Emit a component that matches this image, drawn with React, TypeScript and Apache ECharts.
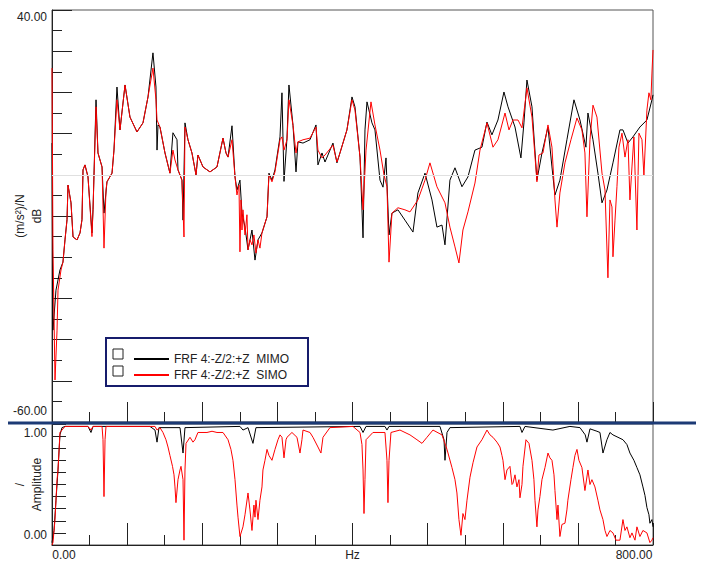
import React, { useEffect, useRef } from "react";
import * as echarts from "echarts";

// ---- data ----
const MIMO_NAME = "FRF 4:-Z/2:+Z  MIMO";
const SIMO_NAME = "FRF 4:-Z/2:+Z  SIMO";

// FRF magnitude, dB re (m/s²)/N
const mimoFrfHz = [0, 1.3, 5.3, 10.6, 14.6, 17.3, 20, 21.3, 25.3, 28, 33.3, 37.3, 39.9, 41.3, 43.9, 47.9, 53.2, 54.6, 58.6, 61.2, 66.6, 69.2, 73.2, 79.9, 82.5, 86.5, 90.5, 97.2, 103.8, 113.1, 121.1, 127.8, 134.4, 138.4, 139.8, 141.1, 143.7, 150.4, 157, 161, 166.4, 167.7, 173, 174.4, 177, 181, 186.3, 191.7, 194.3, 201, 210.3, 219.6, 227.6, 231.6, 234.3, 239.6, 243.6, 246.2, 250.2, 252.9, 256.9, 260.9, 266.2, 270.2, 274.2, 279.5, 286.2, 288.8, 292.8, 296.8, 303.5, 306.1, 308.8, 312.8, 315.4, 320.8, 324.8, 327.4, 334.1, 343.4, 351.4, 354, 359.4, 363.4, 374, 379.3, 383.3, 392.6, 399.3, 403.3, 410, 414, 416.6, 419.3, 425.9, 429.9, 436.6, 440.6, 444.6, 448.6, 452.5, 460.5, 469.8, 480.5, 487.1, 496.5, 505.8, 512.4, 519.1, 523.1, 529.7, 536.4, 545.7, 553.7, 563, 572.3, 579, 585.6, 593.6, 601.6, 607, 616.3, 624.2, 628.2, 632.2, 638.9, 645.5, 652.2, 660.2, 665.5, 669.5, 676.1, 685.4, 694.8, 702.8, 710.7, 713.4, 720.1, 726.7, 732.1, 738.7, 746.7, 756, 760, 766.7, 773.3, 782.6, 791.9, 798.6, 800];
const mimoFrfDb = [7.7, -37.7, -28, -23.1, -21.2, -15.8, -10.9, -2.5, -6.8, -15.1, -15.8, -14.1, -10.9, 1.2, 2.4, -0.5, -14.1, -8.5, 18.2, 5.3, 1.9, -9.3, -1.7, 0.4, 6, 21.3, 10.9, 21.8, 14, 10.4, 12.6, 18.9, 29.6, 21.3, 6, 12.1, 11.6, 5.3, 0.4, 10.2, 8.5, 1.2, -1.3, -11, 12.6, 8.5, 5.3, 0, 4.8, 1.9, 0.7, 1.9, 8.9, 5.3, 4.3, 11.9, -0.5, -3.7, -1.3, -9.3, -12.7, -18.2, -13.4, -20.7, -15.8, -14.1, -10.2, 0.4, -1.3, 1.2, 9.2, 19.9, -1.6, 8.9, 21.8, 12, 0.7, 8, 7.7, 8.5, 12.1, 2.4, 5.3, 3.1, 7.7, 2.9, 5.3, 10.9, 18.9, 16.5, 4.3, -15.3, 10.9, 17.7, 12.6, 10.9, -1.3, -3, 4.1, -14.6, -9.3, -8.5, -11, -13.9, -4.4, 0.4, -6.1, -12.7, -12.2, -17, -1.3, 1.7, -2.9, -0.5, 6, 6.7, 12.8, 9.7, 13.3, 20.1, 16.5, 11.6, 4.1, 12.6, 23, 16.5, -1.3, 5.3, 11.6, 1.9, -4.9, -1.3, 8.5, 18.2, 13.3, 6.7, 15, 8.5, 0.4, -6.8, -3.7, 2.9, 10.9, 10.9, 7.7, 9.2, 11.6, 13.3, 18.2, 19.4];

const simoFrfHz = [0, 1.3, 4, 6.7, 8, 12, 14.6, 17.3, 20, 21.3, 25.3, 28, 33.3, 37.3, 39.9, 41.3, 43.9, 47.9, 53.2, 54.6, 58.6, 61.2, 66.6, 69.2, 71.9, 73.2, 79.9, 82.5, 86.5, 90.5, 97.2, 103.8, 113.1, 121.1, 127.8, 134.4, 138.4, 139.8, 143.7, 150.4, 157, 161, 163.7, 167.7, 173, 175.7, 177, 181, 186.3, 191.7, 194.3, 201, 210.3, 219.6, 227.6, 231.6, 234.3, 239.6, 243.6, 246.2, 248.9, 250.2, 251.6, 252.9, 254.2, 256.9, 259.5, 260.9, 263.5, 266.2, 268.8, 271.5, 274.2, 276.8, 279.5, 286.2, 288.8, 292.8, 296.8, 303.5, 306.1, 308.8, 312.8, 315.4, 320.8, 324.8, 327.4, 334.1, 343.4, 351.4, 354, 359.4, 363.4, 374, 379.3, 383.3, 392.6, 399.3, 403.3, 410, 414, 418, 424.6, 429.9, 436.6, 441.9, 445.9, 448.6, 452.5, 460.5, 469.8, 476.5, 487.1, 496.5, 503.1, 512.4, 523.1, 529.7, 536.4, 541.7, 547, 553.7, 563, 569.7, 579, 587, 593.6, 603, 608.3, 613.6, 620.3, 625.6, 632.2, 638.9, 645.5, 648.2, 653.5, 660.2, 665.5, 669.5, 672.2, 676.1, 682.8, 690.8, 698.8, 705.4, 709.4, 712.1, 716.1, 720.1, 725.4, 732.1, 736.1, 740, 742.7, 745.4, 746.7, 749.4, 752, 754.7, 758.7, 762.7, 766.7, 769.3, 772, 774.6, 778.6, 781.3, 785.3, 787.9, 791.9, 794.6, 797.2, 798.6, 800];
const simoFrfDb = [25.9, -18.2, -49.8, -37.7, -28, -23.1, -21.2, -15.8, -10.9, -2.5, -6.8, -15.1, -15.8, -14.1, -10.9, 1.2, 2.4, -0.5, -15, -8.5, 16.5, 5.3, 1.9, -17.8, -3.7, -1.7, 0.4, 6, 18.2, 10.9, 21.8, 14, 10.4, 12.6, 18.9, 25.9, 18.2, 13.3, 11.6, 5.3, 0.4, 6, 3.6, 1.2, -1.3, -15.1, 11.6, 8.5, 5.3, 0, 4.8, 1.9, 0.7, 1.9, 8.9, 5.3, 4.3, 8.5, -0.5, -4.9, -2.5, -18.7, -6.1, -13.4, -8.5, -14.6, -9.7, -18.2, -15.8, -17, -14.6, -19, -15.8, -17.8, -14.1, -10.2, 0, -1.7, 0.7, 8.5, 9.2, 6, 8.5, 18.2, 12, 5.3, 8, 8.5, 8.9, 11.6, 6, 4.1, 4.8, 7.2, 3.1, 5.3, 10.9, 18.2, 15.7, 4.3, -8.5, 6, 17.7, 12.1, 6, 0, -2.9, -21.2, -9.3, -8, -8.5, -9, -6.1, -1.3, 2.9, -2.9, -6.8, -12.7, -17.5, -21.4, -13.4, -9, -2, 6, 12.6, 6.7, 8.5, 15, 10.9, 13.3, 13.3, 11.4, 21.1, 14, -1.7, 4.8, 5.3, 12.1, 6.7, -6.1, -12.7, -4.4, 2.9, 8.5, 13.8, 10.9, 5.3, -10.2, 8.5, 16.9, 14, 0.4, -3.7, -25, -6.1, -7.8, -19.9, -11, -2.9, 6.7, 10.1, 4.3, 8.5, -6.1, 1.9, 9.2, -13.4, 10.1, 8.5, -0.1, 15.7, 19.9, 18.2, 24.7, 30.3];

// Coherence amplitude (0..1)
const mimoCohHz = [0, 2.7, 5.3, 8, 10.6, 13.3, 17.3, 47.9, 51.9, 54.6, 130.4, 137.1, 139.8, 142.4, 170.4, 174.4, 177, 250.2, 254.2, 260.9, 267.5, 271.5, 410, 414, 418, 443.2, 445.9, 448.6, 516.4, 521.8, 523.1, 525.8, 529.7, 622.9, 625.6, 629.6, 666.8, 689.4, 702.8, 709.8, 712.1, 716.1, 725.4, 729.4, 733.4, 738.7, 742.7, 746.7, 753.4, 760, 765.3, 769.3, 774.6, 778.6, 782.6, 786.6, 789.3, 791.9, 794.6, 795.9, 798.6, 800];
const mimoCoh = [0.02, 0.12, 0.37, 0.62, 0.91, 0.97, 0.98, 0.98, 0.93, 0.98, 0.98, 0.95, 0.85, 0.97, 0.97, 0.76, 0.97, 0.98, 0.95, 0.97, 0.84, 0.97, 0.98, 0.93, 0.98, 0.98, 0.95, 0.98, 0.98, 0.87, 0.7, 0.93, 0.97, 0.98, 0.93, 0.98, 0.95, 0.98, 0.97, 0.91, 0.85, 0.96, 0.94, 0.93, 0.76, 0.87, 0.93, 0.91, 0.89, 0.87, 0.83, 0.76, 0.7, 0.64, 0.58, 0.48, 0.41, 0.31, 0.25, 0.18, 0.21, 0.15];

const simoCohHz = [0, 1.3, 4, 6.7, 8, 10.6, 13.3, 17.3, 47.9, 51.9, 54.6, 66.6, 67.9, 69.2, 70.6, 71.9, 137.1, 139.8, 143.7, 147.7, 151.7, 154.4, 157, 160.4, 162.4, 163.7, 165, 167.7, 170.4, 171.7, 174.4, 175.7, 177, 178.4, 183.7, 187.7, 190.3, 194.3, 206.3, 213, 219.6, 227.6, 234.3, 238.2, 240.9, 243.6, 246.2, 247.6, 250.2, 254.2, 256.9, 260.9, 263.5, 266.2, 268.8, 270.2, 271.5, 274.2, 276.8, 279.5, 280.8, 283.5, 286.2, 288.8, 292.8, 296.8, 300.8, 303.5, 306.1, 308.8, 311.5, 312.8, 319.4, 326.1, 330.1, 332.7, 334.1, 343.4, 347.4, 354, 358, 360.7, 370, 400.6, 410, 412.6, 414, 415.3, 416.6, 418, 427.2, 443.2, 445.9, 447.2, 448.6, 451.2, 463.2, 476.5, 485.8, 492.5, 499.1, 507.1, 519.1, 525.8, 532.4, 536.4, 539, 541.7, 544.4, 547, 549.7, 552.4, 556.4, 560.4, 565.7, 572.3, 579, 583, 587, 592.3, 596.3, 598.9, 600.3, 603, 605.6, 609.6, 612.3, 613.6, 616.3, 618.9, 621.6, 622.9, 625.6, 626.9, 630.9, 634.9, 638.9, 641.5, 642.9, 645.5, 646.9, 649.5, 652.2, 656.2, 660.2, 662.8, 665.5, 668.2, 669.5, 672.2, 673.5, 676.1, 678.8, 682.8, 685.4, 686.7, 690.8, 693.4, 696.1, 698.8, 701.4, 705.4, 709.4, 713.4, 716.1, 718.7, 722.7, 726.7, 729.4, 733.4, 736.1, 738.7, 742.7, 746.7, 750.7, 756, 760, 762.7, 765.3, 769.3, 772, 776, 778.6, 782.6, 786.6, 791.9, 795.9, 798.6, 800];
const simoCoh = [0, 0.02, 0.21, 0.54, 0.62, 0.93, 0.95, 0.98, 0.98, 0.95, 0.98, 0.98, 0.87, 0.4, 0.87, 0.98, 0.98, 0.95, 0.97, 0.93, 0.87, 0.81, 0.74, 0.65, 0.58, 0.48, 0.35, 0.54, 0.62, 0.65, 0.54, 0.04, 0.62, 0.84, 0.89, 0.85, 0.87, 0.93, 0.93, 0.94, 0.93, 0.93, 0.87, 0.79, 0.7, 0.54, 0.33, 0.23, 0.07, 0.15, 0.25, 0.43, 0.29, 0.12, 0.33, 0.23, 0.37, 0.21, 0.37, 0.48, 0.62, 0.7, 0.79, 0.74, 0.7, 0.79, 0.87, 0.91, 0.89, 0.72, 0.87, 0.89, 0.93, 0.89, 0.76, 0.87, 0.95, 0.93, 0.89, 0.81, 0.76, 0.89, 0.97, 0.98, 0.93, 0.83, 0.62, 0.26, 0.54, 0.87, 0.93, 0.93, 0.7, 0.35, 0.7, 0.93, 0.95, 0.91, 0.87, 0.84, 0.89, 0.95, 0.91, 0.79, 0.64, 0.54, 0.43, 0.21, 0.08, 0.26, 0.21, 0.37, 0.56, 0.68, 0.81, 0.87, 0.95, 0.91, 0.89, 0.85, 0.81, 0.74, 0.7, 0.54, 0.62, 0.65, 0.5, 0.51, 0.58, 0.48, 0.54, 0.39, 0.5, 0.65, 0.87, 0.84, 0.7, 0.54, 0.37, 0.15, 0.29, 0.4, 0.54, 0.64, 0.76, 0.72, 0.7, 0.58, 0.45, 0.21, 0.33, 0.07, 0.17, 0.18, 0.29, 0.37, 0.54, 0.64, 0.74, 0.79, 0.7, 0.64, 0.45, 0.62, 0.5, 0.54, 0.48, 0.37, 0.29, 0.21, 0.12, 0.07, 0.12, 0.1, 0.04, 0.04, 0.21, 0.12, 0.15, 0.06, 0.1, 0.04, 0.15, 0.07, 0.12, 0.1, 0.02, 0.04, 0.06];

const X_MIN = 0;
const X_MAX = 800;
const FRF_MIN = -60;
const FRF_MAX = 40;

const zip = (xs: number[], ys: number[]) => xs.map((x, i) => [x, ys[i]]);

const FONT = '"Liberation Sans", Arial, Helvetica, sans-serif';
const TXT = "#222";
const BLACK = "#000000";
const RED = "#ff0000";

function buildOption(): any {
  const lbl = { fontSize: 12, color: TXT, fontFamily: FONT };
  const tickStyle = { color: TXT, width: 1 };
  return {
    animation: false,
    backgroundColor: "#ffffff",
    textStyle: { fontFamily: FONT },
    grid: [
      { left: 52, top: 10, right: 51, height: 412, show: true, borderColor: "#555", borderWidth: 1, backgroundColor: "transparent", outerBoundsMode: "none" },
      { left: 52, top: 424, right: 51, height: 121, show: true, borderColor: "#555", borderWidth: 1, backgroundColor: "transparent", outerBoundsMode: "none" },
    ],
    xAxis: [
      {
        type: "value", gridIndex: 0, min: X_MIN, max: X_MAX, interval: 100,
        axisLine: { show: false, onZero: false },
        axisTick: { show: true, inside: true, length: 20, lineStyle: tickStyle },
        minorTick: { show: true, splitNumber: 2, length: 10, lineStyle: tickStyle },
        axisLabel: { show: false },
        splitLine: { show: false },
      },
      {
        type: "value", gridIndex: 1, min: X_MIN, max: X_MAX, interval: 100,
        axisLine: { show: true, onZero: false, lineStyle: { color: TXT } },
        axisTick: { show: true, inside: true, length: 22, lineStyle: tickStyle },
        minorTick: { show: true, splitNumber: 2, length: 10, lineStyle: tickStyle },
        splitLine: { show: false },
        axisLabel: {
          ...lbl, margin: 4,
          formatter: (v: number) => (v === X_MIN ? "{l|" + v.toFixed(2) + "}" : v === X_MAX ? "{r|" + v.toFixed(2) + "}" : ""),
          rich: {
            l: { ...lbl, padding: [0, 0, 0, 24] },
            r: { ...lbl, padding: [0, 38, 0, 0] },
          },
        },
        name: "Hz", nameLocation: "middle", nameGap: 4, nameMoveOverlap: false,
        nameTextStyle: { ...lbl, verticalAlign: "top" },
      },
    ],
    yAxis: [
      {
        type: "value", gridIndex: 0, min: FRF_MIN, max: FRF_MAX, interval: 10,
        axisLine: { show: true, onZero: false, lineStyle: { color: TXT } },
        axisTick: { show: true, inside: true, length: 20, lineStyle: tickStyle },
        minorTick: { show: true, splitNumber: 2, length: 10, lineStyle: tickStyle },
        splitLine: { show: false },
        axisLabel: {
          ...lbl, margin: 5,
          formatter: (v: number) => (v === FRF_MAX ? "{t|" + v.toFixed(2) + "}" : v === FRF_MIN ? "{b|" + v.toFixed(2) + "}" : ""),
          rich: {
            t: { ...lbl, padding: [14, 0, 0, 0] },
            b: { ...lbl, padding: [0, 0, 22, 0] },
          },
        },
        name: "(m/s²)/N\ndB", nameLocation: "middle", nameRotate: 90, nameGap: 7, nameMoveOverlap: false,
        nameTextStyle: { ...lbl, lineHeight: 17 },
      },
      {
        type: "value", gridIndex: 1, min: 0, max: 1, interval: 0.1,
        axisLine: { show: true, onZero: false, lineStyle: { color: TXT } },
        axisTick: { show: true, inside: true, length: 14, lineStyle: tickStyle },
        splitLine: { show: false },
        axisLabel: {
          ...lbl, margin: 5,
          formatter: (v: number) => (v === 1 ? "{t|" + v.toFixed(2) + "}" : v === 0 ? "{b|" + v.toFixed(2) + "}" : ""),
          rich: {
            t: { ...lbl, padding: [18, 0, 0, 0] },
            b: { ...lbl, padding: [0, 0, 20, 0] },
          },
        },
        name: "/\nAmplitude", nameLocation: "middle", nameRotate: 90, nameGap: 7, nameMoveOverlap: false,
        nameTextStyle: { ...lbl, lineHeight: 17 },
      },
    ],
    legend: {
      left: 129, top: 347, orient: "vertical",
      itemWidth: 35, itemHeight: 2, itemGap: 2, icon: "rect",
      selectedMode: false,
      data: [MIMO_NAME, SIMO_NAME],
      textStyle: { ...lbl, lineHeight: 14 },
      z: 6,
    },
    series: [
      {
        type: "line", xAxisIndex: 0, yAxisIndex: 0, data: [], z: 1, silent: true,
        markLine: {
          silent: true, symbol: ["none", "none"], label: { show: false },
          lineStyle: { color: "#e0e0e0", type: "solid", width: 1 },
          data: [{ yAxis: 0 }],
        },
      },
      {
        name: MIMO_NAME, type: "line", xAxisIndex: 0, yAxisIndex: 0,
        data: zip(mimoFrfHz, mimoFrfDb), showSymbol: false, symbol: "none",
        color: BLACK, lineStyle: { color: BLACK, width: 1 }, silent: true,
      },
      {
        name: SIMO_NAME, type: "line", xAxisIndex: 0, yAxisIndex: 0,
        data: zip(simoFrfHz, simoFrfDb), showSymbol: false, symbol: "none",
        color: RED, lineStyle: { color: RED, width: 1 }, silent: true,
      },
      {
        name: MIMO_NAME, type: "line", xAxisIndex: 1, yAxisIndex: 1,
        data: zip(mimoCohHz, mimoCoh), showSymbol: false, symbol: "none",
        color: BLACK, lineStyle: { color: BLACK, width: 1 }, silent: true,
      },
      {
        name: SIMO_NAME, type: "line", xAxisIndex: 1, yAxisIndex: 1,
        data: zip(simoCohHz, simoCoh), showSymbol: false, symbol: "none",
        color: RED, lineStyle: { color: RED, width: 1 }, silent: true,
      },
    ],
    graphic: [
      { type: "rect", z: 3, silent: true, shape: { x: 106, y: 338, width: 202, height: 48 }, style: { fill: "#ffffff", stroke: "#161c6c", lineWidth: 2 } },
      { type: "rect", z: 4, silent: true, shape: { x: 113, y: 349, width: 10, height: 10 }, style: { fill: "#ffffff", stroke: "#222", lineWidth: 1 } },
      { type: "rect", z: 4, silent: true, shape: { x: 113, y: 366, width: 10, height: 10 }, style: { fill: "#ffffff", stroke: "#222", lineWidth: 1 } },
      { type: "line", z: 100, silent: true, shape: { x1: 8, y1: 423, x2: 696, y2: 423 }, style: { stroke: "#1c3a75", lineWidth: 3 } },
    ],
  };
}

export default function App() {
  const ref = useRef<HTMLDivElement>(null);
  useEffect(() => {
    if (!ref.current) return;
    const chart = echarts.init(ref.current, undefined, { renderer: "svg" });
    chart.setOption(buildOption());
    return () => chart.dispose();
  }, []);
  return (
    <div
      ref={ref}
      style={{ position: "absolute", left: 0, top: 0, width: 704, height: 565, background: "#fff" }}
    />
  );
}
